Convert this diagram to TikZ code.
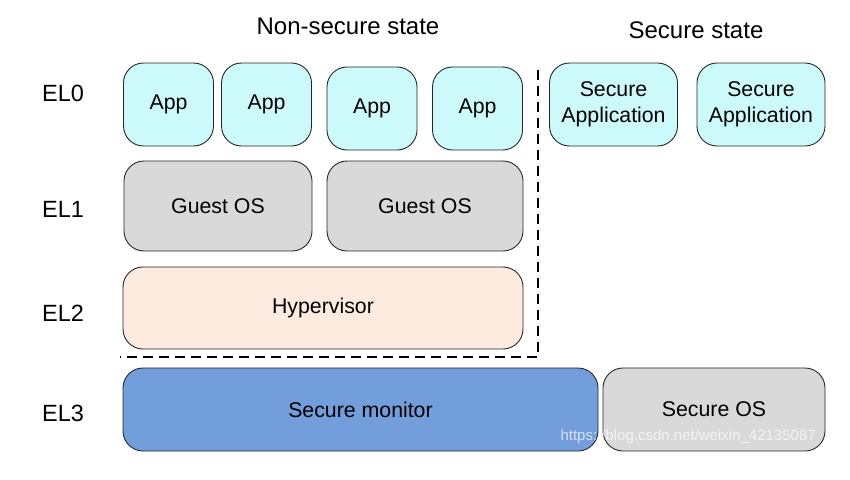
\documentclass[tikz,border=0pt]{standalone}
\usepackage{fontspec}
\setmainfont{Liberation Sans}
\begin{document}
\begin{tikzpicture}[x=1pt,y=-1pt,
  box/.style={draw=black!85, line width=0.9pt, rounded corners=20pt, inner sep=0pt, align=center, font=\fontsize{21.3}{26}\selectfont},
  appbox/.style={box, fill=appc, minimum width=90pt, minimum height=83pt},
  secapp/.style={box, fill=appc, minimum width=128pt, minimum height=83pt},
  lbl/.style={font=\fontsize{23.5}{26}\selectfont},
  ttl/.style={font=\fontsize{24}{27}\selectfont}]
\definecolor{appc}{RGB}{204,250,250}
\definecolor{osc}{RGB}{217,217,217}
\definecolor{hypc}{RGB}{252,235,222}
\definecolor{monc}{RGB}{114,159,219}
\useasboundingbox (0,0) rectangle (850,479);
\fill[white] (0,0) rectangle (850,479);
% titles
\node[ttl] (tns) at (348,26) {Non-secure state};
\node[ttl] (tsec) at (696,30) {Secure state};
% level labels
\node[lbl] (el0) at (63,93) {EL0};
\node[lbl] (el1) at (63,209) {EL1};
\node[lbl] (el2) at (63,313) {EL2};
\node[lbl] (el3) at (63,413) {EL3};
% EL0
\node[appbox] (app1) at (168.5,104.5) {App};
\node[appbox] (app2) at (266.5,104.5) {App};
\node[appbox] (app3) at (372,108.5) {App};
\node[appbox] (app4) at (477.5,108.5) {App};
\node[secapp] (sa1) at (613.5,104.5) {Secure\\Application};
\node[secapp] (sa2) at (761,104.5) {Secure\\Application};
% EL1
\node[box, fill=osc, minimum width=188pt, minimum height=90pt] (gos1) at (218,206) {Guest OS};
\node[box, fill=osc, minimum width=196pt, minimum height=90pt] (gos2) at (425,206) {Guest OS};
% EL2
\node[box, fill=hypc, minimum width=400pt, minimum height=82pt] (hyp) at (323,308) {Hypervisor};
% EL3
\node[box, fill=monc, minimum width=475pt, minimum height=83pt] (mon) at (360.5,409.5) {Secure monitor};
\node[box, fill=osc, minimum width=222pt, minimum height=83pt] (sos) at (714,409.5) {Secure OS};
% dashed boundary
\coordinate (dtop) at (538,70);
\coordinate (dcorner) at (538,357);
\coordinate (dleft) at (120,357);
\draw[line width=1.6pt, dash pattern=on 10pt off 6pt] (dtop) -- (dcorner) -- (dleft);
% watermark
\node[font=\fontsize{15}{18}\selectfont, text=white, opacity=0.7, anchor=west] (wm) at (557,437) {https://blog.csdn.net/weixin\_42135087};
\end{tikzpicture}
\end{document}
